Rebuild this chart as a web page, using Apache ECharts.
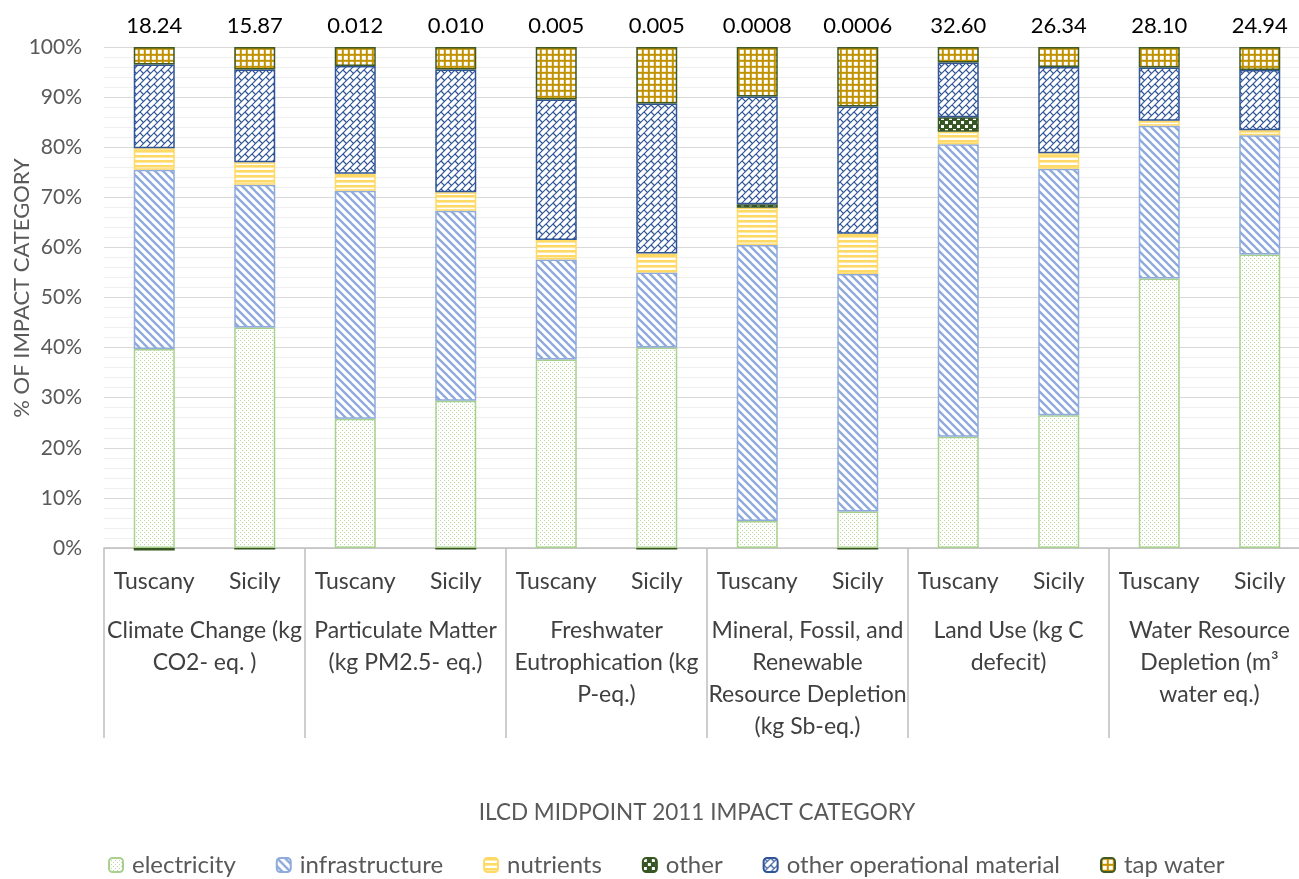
<!DOCTYPE html>
<html>
<head>
<meta charset="utf-8">
<script src="https://cdn.jsdelivr.net/npm/echarts@6/dist/echarts.min.js"></script>
<style>
html,body{margin:0;padding:0;background:#fff;overflow:hidden;}
#chart{width:1320px;height:879px;}
</style>
</head>
<body>
<div id="chart"></div>
<script>
// ---- data ----
const regions = ['Tuscany','Sicily','Tuscany','Sicily','Tuscany','Sicily','Tuscany','Sicily','Tuscany','Sicily','Tuscany','Sicily'];
const groups = [
  'Climate Change (kg\nCO2- eq. )',
  'Particulate Matter\n(kg PM2.5- eq.)',
  'Freshwater\nEutrophication (kg\nP-eq.)',
  'Mineral, Fossil, and\nRenewable\nResource Depletion\n(kg Sb-eq.)',
  'Land Use (kg C\ndefecit)',
  'Water Resource\nDepletion (m³\nwater eq.)'
];
const totals = ['18.24','15.87','0.012','0.010','0.005','0.005','0.0008','0.0006','32.60','26.34','28.10','24.94'];
const electricity = [39.7, 44.0, 25.8, 29.4, 37.6, 40.0, 5.4, 7.3, 22.2, 26.5, 53.8, 58.6];
const infrastructure = [35.8, 28.5, 45.5, 37.9, 20.0, 15.0, 55.1, 47.4, 58.4, 49.2, 30.5, 23.8];
const nutrients = [4.3, 4.5, 3.4, 3.7, 3.9, 3.8, 7.4, 8.0, 2.5, 3.1, 1.0, 1.0];
const other = [-0.5, -0.3, null, -0.3, null, -0.3, 0.7, -0.3, 2.9, null, null, null];
const otherOperational = [16.7, 18.5, 21.5, 24.5, 28.0, 29.9, 21.5, 25.4, 10.9, 17.2, 10.6, 12.0];
const tapWater = [3.5, 4.5, 3.8, 4.5, 10.5, 11.3, 9.9, 11.9, 3.1, 4.0, 4.1, 4.6];
const seriesNames = ['electricity','infrastructure','nutrients','other','other operational material','tap water'];
const yTicks = [0,10,20,30,40,50,60,70,80,90,100];

// ---- patterns ----
function mk(w, h, draw){
  const c = document.createElement('canvas');
  c.width = w; c.height = h;
  const g = c.getContext('2d');
  draw(g, w, h);
  return {image: c, repeat: 'repeat'};
}
const patElec = mk(4, 4, (g) => {
  g.fillStyle = '#ffffff'; g.fillRect(0,0,4,4);
  g.fillStyle = '#b5d99c'; g.fillRect(0,0,1,1); g.fillRect(2,2,1,1);
});
const patInfra = mk(8, 8, (g) => {
  g.fillStyle = '#ffffff'; g.fillRect(0,0,8,8);
  g.strokeStyle = '#8faadc'; g.lineWidth = 2.4;
  for (let o = -8; o <= 8; o += 8) { g.beginPath(); g.moveTo(o-2, -2); g.lineTo(o+10, 10); g.stroke(); }
});
const patNutr = mk(5, 5, (g) => {
  g.fillStyle = '#ffffff'; g.fillRect(0,0,5,5);
  g.fillStyle = '#ffd966'; g.fillRect(0,0,5,2.6);
});
const patOther = mk(8, 8, (g) => {
  g.fillStyle = '#375623'; g.fillRect(0,0,8,8);
  g.fillStyle = '#ffffff'; g.fillRect(1,1,3,3); g.fillRect(5,5,3,3);
});
const patOp = mk(14, 14, (g) => {
  g.fillStyle = '#ffffff'; g.fillRect(0,0,14,14);
  g.strokeStyle = '#2f5597'; g.lineWidth = 1.2;
  for (let c = -28; c <= 56; c += 7) { g.beginPath(); g.moveTo(c+2, -2); g.lineTo(-2, c+2); g.stroke(); }
  for (let k = -6; k <= 8; k++) {
    const off = ((k % 2) + 2) % 2 === 0 ? 0 : 7;
    for (let t = -42 + off; t <= 42; t += 14) {
      const x1 = (7*k + t)/2, y1 = (7*k - t)/2;
      const x2 = (7*k + 7 + t)/2, y2 = (7*k + 7 - t)/2;
      g.beginPath(); g.moveTo(x1, y1); g.lineTo(x2, y2); g.stroke();
    }
  }
});
const patTap = mk(6, 6, (g) => {
  g.fillStyle = '#c09200'; g.fillRect(0,0,6,6);
  g.fillStyle = '#ffffff'; g.fillRect(1.8,1.8,4,4);
});

const styles = [
  {color: patElec, borderColor: '#a9d18e'},
  {color: patInfra, borderColor: '#8faadc'},
  {color: patNutr, borderColor: '#ffd966'},
  {color: patOther, borderColor: '#375623'},
  {color: patOp, borderColor: '#2f5597'},
  {color: patTap, borderColor: '#3f5a24'}
];
const values = [electricity, infrastructure, nutrients, other, otherOperational, tapWater];
const FONT = 'Lato';

const series = seriesNames.map((name, i) => ({
  name: name,
  type: 'bar',
  stack: 'total',
  barWidth: 41,
  clip: false,
  data: values[i],
  itemStyle: Object.assign({borderWidth: 1.5}, styles[i]),
  label: i === 5 ? {
    show: true, position: 'top', distance: 10,
    formatter: (p) => totals[p.dataIndex],
    color: '#000000', fontSize: 22, fontFamily: FONT
  } : {show: false},
  emphasis: {disabled: true}
}));

const chart = echarts.init(document.getElementById('chart'), null, {renderer: 'canvas'});
chart.setOption({
  animation: false,
  backgroundColor: '#ffffff',
  textStyle: {fontFamily: FONT},
  grid: {left: 104, top: 47, width: 1206, bottom: 331, containLabel: false},
  xAxis: [
    {
      type: 'category', data: regions, position: 'bottom',
      axisLine: {show: true, lineStyle: {color: '#bfbfbf', width: 1.5}},
      axisTick: {show: false},
      axisLabel: {color: '#404040', fontSize: 23, fontFamily: FONT, margin: 22, interval: 0}
    },
    {
      type: 'category', data: groups, position: 'bottom', offset: 0,
      axisLine: {show: false},
      axisTick: {show: true, length: 190, interval: 0, lineStyle: {color: '#bfbfbf', width: 1.5}},
      axisLabel: {color: '#404040', fontSize: 23, fontFamily: FONT, margin: 67, interval: 0,
                  lineHeight: 32, align: 'center', verticalAlign: 'top'}
    }
  ],
  yAxis: {
    type: 'value', min: yTicks[0], max: yTicks[yTicks.length-1], interval: 10,
    axisLine: {show: false}, axisTick: {show: false},
    axisLabel: {formatter: '{value}%', color: '#595959', fontSize: 21, fontFamily: FONT, margin: 22},
    splitLine: {show: true, lineStyle: {color: '#d9d9d9', width: 1.2}},
    minorTick: {show: false, splitNumber: 5},
    minorSplitLine: {show: true, lineStyle: {color: '#efefef', width: 1}}
  },
  legend: {
    data: seriesNames, left: 108, top: 853, padding: 0,
    itemWidth: 14, itemHeight: 14, itemGap: 40,
    textStyle: {color: '#595959', fontSize: 24, fontFamily: FONT, padding: [0,0,0,4]},
    selectedMode: false
  },
  graphic: [
    {type: 'text', x: 697, y: 813, style: {text: 'ILCD MIDPOINT 2011 IMPACT CATEGORY', fill: '#595959', fontSize: 22.5, fontFamily: FONT, align: 'center', verticalAlign: 'middle'}},
    {type: 'text', x: 22, y: 288, rotation: Math.PI/2, style: {text: '% OF IMPACT CATEGORY', fill: '#595959', fontSize: 22, fontFamily: FONT, align: 'center', verticalAlign: 'middle'}}
  ],
  series: series
});
</script>
</body>
</html>
